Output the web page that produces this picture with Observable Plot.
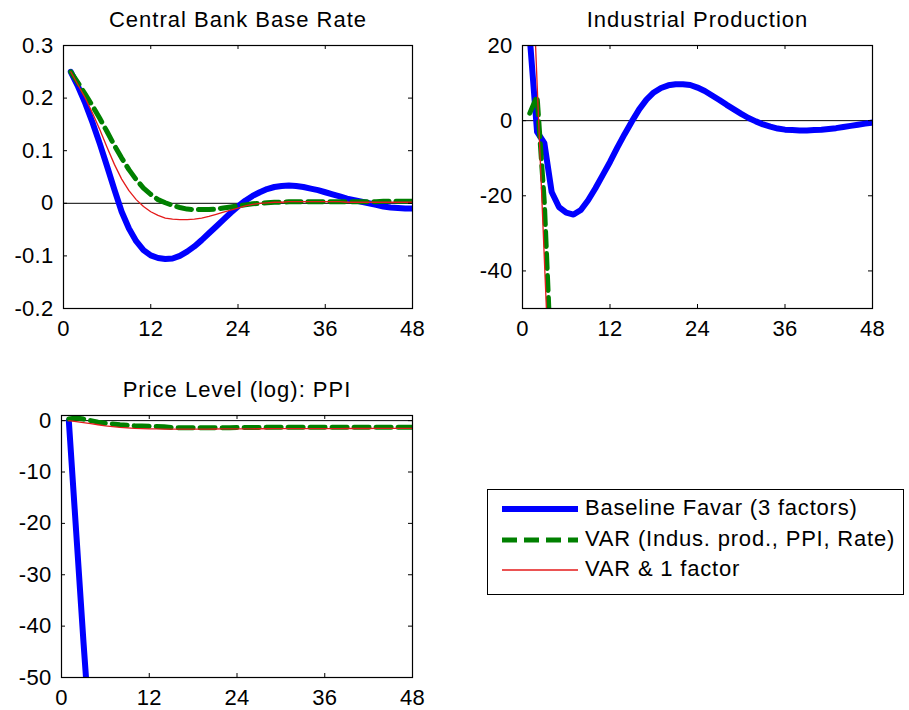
<!DOCTYPE html>
<html><head><meta charset="utf-8">
<script src="https://cdn.jsdelivr.net/npm/d3@7"></script>
<script src="https://cdn.jsdelivr.net/npm/@observablehq/plot@0.6"></script>
<style>
body{margin:0;background:#fff;}
#root{position:relative;width:909px;height:710px;overflow:hidden;}
#root > svg, #root > div{position:absolute;}
</style></head><body><div id="root"></div>
<script>
// ---------- data ----------
const months = [1,2,3,4,5,6,7,8,9,10,11,12,13,14,15,16,17,18,19,20,21,22,23,24,
                25,26,27,28,29,30,31,32,33,34,35,36,37,38,39,40,41,42,43,44,45,46,47,48];
const xTicks = [0, 12, 24, 36, 48];

const seriesNames = ["Baseline Favar (3 factors)", "VAR (Indus. prod., PPI, Rate)", "VAR & 1 factor"];

// Central Bank Base Rate
const rateTitle = "Central Bank Base Rate";
const rateTicks = [-0.2, -0.1, 0, 0.1, 0.2, 0.3];
const rateFavar = [0.25,0.222,0.19,0.153,0.113,0.07,0.026,-0.016,-0.048,-0.072,
  -0.089,-0.099,-0.104,-0.106,-0.105,-0.1,-0.092,-0.082,-0.07,-0.057,
  -0.044,-0.031,-0.018,-0.006,0.005,0.014,0.021,0.027,0.031,0.033,
  0.034,0.033,0.031,0.028,0.025,0.021,0.017,0.013,0.009,0.006,
  0.003,0,-0.003,-0.006,-0.008,-0.009,-0.01,-0.01];
const rateVar = [0.25,0.229,0.207,0.185,0.161,0.136,0.11,0.086,0.064,0.045,
  0.029,0.017,0.007,0.001,-0.004,-0.008,-0.011,-0.012,-0.012,-0.012,
  -0.011,-0.009,-0.007,-0.005,-0.003,-0.001,0,0.001,0.002,0.002,
  0.003,0.003,0.003,0.003,0.003,0.003,0.003,0.003,0.003,0.003,
  0.003,0.003,0.003,0.004,0.004,0.004,0.004,0.004];
const rateVar1 = [0.25,0.225,0.2,0.171,0.14,0.106,0.074,0.046,0.024,0.007,
  -0.006,-0.016,-0.023,-0.028,-0.03,-0.031,-0.031,-0.03,-0.028,-0.025,
  -0.021,-0.017,-0.013,-0.009,-0.005,-0.002,0,0.001,0.002,0.002,
  0.003,0.003,0.003,0.003,0.003,0.003,0.003,0.003,0.002,0.002,
  0.002,0.002,0.002,0.002,0.002,0.002,0.002,0.002];

// Industrial Production
const ipTitle = "Industrial Production";
const ipTicks = [-40, -20, 0, 20];
const ipFavar = [22,-3,-6,-19,-23,-24.5,-25,-23.8,-21.2,-18,
  -14.5,-11,-7.2,-3.6,-0.2,3,5.6,7.5,8.7,9.4,
  9.7,9.7,9.5,8.8,7.9,6.7,5.5,4.2,3,1.8,
  0.7,-0.2,-1,-1.6,-2.1,-2.4,-2.5,-2.6,-2.6,-2.5,
  -2.4,-2.2,-2,-1.7,-1.4,-1.1,-0.8,-0.5];
const ipMonthsVar = [1, 2, 3, 4];
const ipVar = [2, 6.5, -22, -68];
const ipVar1 = [58, 10, -37, -84];

// Price Level (log): PPI
const ppiTitle = "Price Level (log): PPI";
const ppiTicks = [-50, -40, -30, -20, -10, 0];
const ppiMonthsFavar = [1, 2, 3, 4];
const ppiFavar = [0, -21.5, -43, -63];
const ppiVar = [0.3,0.5,0.3,0,-0.3,-0.5,-0.65,-0.8,-0.9,-1.0,
  -1.05,-1.1,-1.15,-1.2,-1.35,-1.38,-1.4,-1.4,-1.4,-1.4,
  -1.4,-1.38,-1.37,-1.35,-1.34,-1.33,-1.32,-1.31,-1.3,-1.3,
  -1.3,-1.3,-1.3,-1.3,-1.3,-1.3,-1.29,-1.29,-1.29,-1.29,
  -1.29,-1.29,-1.28,-1.28,-1.28,-1.28,-1.28,-1.28];
const ppiVar1 = [0,-0.2,-0.4,-0.6,-0.8,-1.0,-1.15,-1.3,-1.4,-1.5,
  -1.55,-1.6,-1.62,-1.64,-1.65,-1.66,-1.66,-1.66,-1.65,-1.64,
  -1.63,-1.62,-1.61,-1.6,-1.6,-1.59,-1.58,-1.58,-1.57,-1.57,
  -1.56,-1.56,-1.55,-1.55,-1.55,-1.54,-1.54,-1.54,-1.53,-1.53,
  -1.53,-1.53,-1.52,-1.52,-1.52,-1.52,-1.52,-1.52];

// ---------- styles ----------
const FONT = '"Liberation Sans", Arial, Helvetica, sans-serif';
const styles = [
  {stroke: "#0000ff", strokeWidth: 6, dash: null},
  {stroke: "#008000", strokeWidth: 5, dash: "15,7"},
  {stroke: "#e41a1a", strokeWidth: 1.3, dash: null}
];

function rows(xs, ys) { return xs.map((m, i) => ({m, v: ys[i]})); }

function panel({title, yDomain, yTicks, series, left, top, width, height, mL, mR, mT, mB}) {
  const fw = width - mL - mR, fh = height - mT - mB, tl = 4;
  const fmt = d => String(d);
  const svg = Plot.plot({
    width, height, marginLeft: mL, marginRight: mR, marginTop: mT, marginBottom: mB,
    x: {domain: [0, 48]},
    y: {domain: yDomain},
    style: {fontFamily: FONT, fontSize: "22px", letterSpacing: "0.3px", color: "black", background: "transparent", overflow: "visible"},
    marks: [
      Plot.ruleY([0], {stroke: "black", strokeWidth: 1}),
      ...series.map((s, i) => Plot.line(rows(s.x, s.y), {
        x: "m", y: "v", stroke: styles[i].stroke, strokeWidth: styles[i].strokeWidth,
        strokeDasharray: styles[i].dash, strokeLinejoin: "round", clip: true
      })),
      Plot.ruleX(xTicks, {stroke: "black", insetTop: fh - tl}),
      Plot.ruleX(xTicks, {stroke: "black", insetBottom: fh - tl}),
      Plot.ruleY(yTicks, {stroke: "black", insetRight: fw - tl}),
      Plot.ruleY(yTicks, {stroke: "black", insetLeft: fw - tl}),
      Plot.frame({stroke: "black", strokeWidth: 1.2}),
      Plot.axisX(xTicks, {tickSize: 0, tickPadding: 12, tickFormat: fmt, label: null}),
      Plot.axisY(yTicks, {tickSize: 0, tickPadding: 10, tickFormat: fmt, label: null}),
      Plot.text([title], {frameAnchor: "top", dy: -19, lineAnchor: "bottom", fontSize: 22, fill: "black"})
    ]
  });
  svg.style.left = left + "px";
  svg.style.top = top + "px";
  d3.select(svg).selectAll("text").filter(function() { return this.textContent === title; })
    .attr("letter-spacing", "1px");
  return svg;
}

const root = document.getElementById("root");

root.appendChild(panel({
  title: rateTitle, yDomain: [-0.2, 0.3], yTicks: rateTicks,
  series: [{x: months, y: rateFavar}, {x: months, y: rateVar}, {x: months, y: rateVar1}],
  left: 0, top: 0, width: 440, height: 345, mL: 63, mR: 28, mT: 45, mB: 37
}));

root.appendChild(panel({
  title: ipTitle, yDomain: [-50, 20], yTicks: ipTicks,
  series: [{x: months, y: ipFavar}, {x: ipMonthsVar, y: ipVar}, {x: ipMonthsVar, y: ipVar1}],
  left: 460, top: 0, width: 449, height: 345, mL: 62, mR: 37, mT: 45, mB: 37
}));

root.appendChild(panel({
  title: ppiTitle, yDomain: [-50, 1], yTicks: ppiTicks,
  series: [{x: ppiMonthsFavar, y: ppiFavar}, {x: months, y: ppiVar}, {x: months, y: ppiVar1}],
  left: 0, top: 370, width: 440, height: 340, mL: 61, mR: 28, mT: 45, mB: 33
}));

// ---------- legend ----------
const lw = 417, lh = 106;
const leg = d3.create("svg").attr("width", lw).attr("height", lh)
  .style("left", "487px").style("top", "489px").style("position", "absolute")
  .style("font-family", FONT);
leg.append("rect").attr("x", 0.5).attr("y", 0.5).attr("width", lw - 1).attr("height", lh - 1)
  .attr("fill", "white").attr("stroke", "black");
const rowY = [20, 51, 81];
seriesNames.forEach((name, i) => {
  leg.append("line").attr("x1", 15).attr("x2", 91).attr("y1", rowY[i]).attr("y2", rowY[i])
    .attr("stroke", styles[i].stroke).attr("stroke-width", styles[i].strokeWidth)
    .attr("stroke-dasharray", styles[i].dash);
  leg.append("text").attr("x", 98).attr("y", rowY[i] + 6).attr("font-size", 22)
    .attr("letter-spacing", "0.8px").attr("fill", "black").text(name);
});
root.appendChild(leg.node());
</script></body></html>
